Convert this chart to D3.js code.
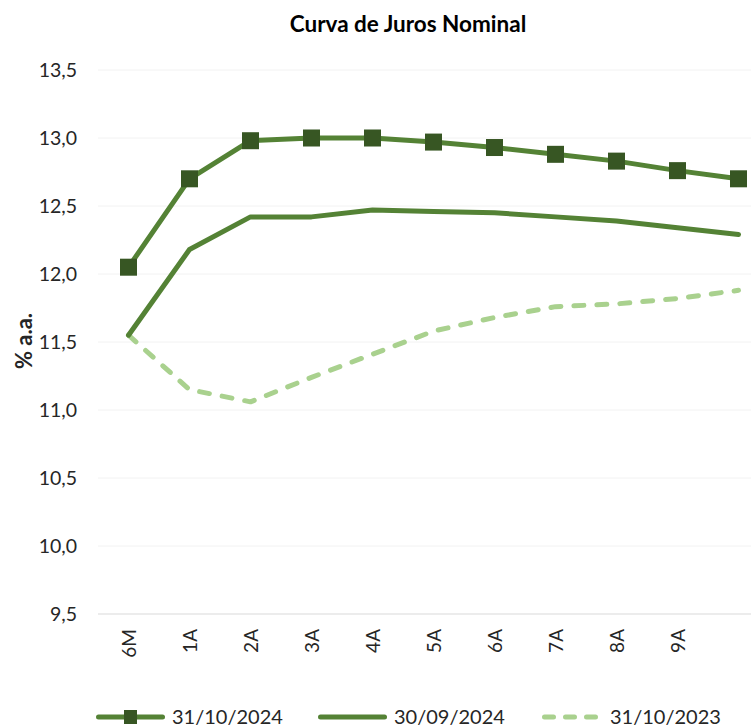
<!DOCTYPE html>
<html>
<head>
<meta charset="utf-8">
<script src="https://cdn.jsdelivr.net/npm/d3@7"></script>
<style>
  body { margin: 0; background: #fff; }
  svg { font-family: Lato, "Open Sans", sans-serif; }
</style>
</head>
<body>
<div id="grafica"></div>
<script>
// vertices
var categorias = ["6M", "1A", "2A", "3A", "4A", "5A", "6A", "7A", "8A", "9A", "10A"];
var rotulosX = ["6M", "1A", "2A", "3A", "4A", "5A", "6A", "7A", "8A", "9A", ""];
var ticksY = [9.5, 10.0, 10.5, 11.0, 11.5, 12.0, 12.5, 13.0, 13.5];

var curva_out24 = [12.05, 12.70, 12.98, 13.00, 13.00, 12.97, 12.93, 12.88, 12.83, 12.76, 12.70];
var curva_set24 = [11.55, 12.18, 12.42, 12.42, 12.47, 12.46, 12.45, 12.42, 12.39, 12.34, 12.29];
var curva_out23 = [11.55, 11.15, 11.06, 11.24, 11.41, 11.58, 11.68, 11.76, 11.78, 11.82, 11.88];

var series = [
    { nome: "31/10/2024", valores: curva_out24, cor: "#548235", marcador: true, tracejado: false },
    { nome: "30/09/2024", valores: curva_set24, cor: "#548235", marcador: false, tracejado: false },
    { nome: "31/10/2023", valores: curva_out23, cor: "#A9D18E", marcador: false, tracejado: true }
];

var width = 751, height = 727;
var esq = 98;

var svg = d3.select("#grafica")
    .append("svg")
    .attr("width", width)
    .attr("height", height);

// a area do grafico passa da borda direita (ultima categoria sem rotulo)
var x = d3.scalePoint()
    .domain(categorias)
    .range([esq, esq + categorias.length * 61])
    .padding(0.5);

var y = d3.scaleLinear()
    .domain([9.5, 13.5])
    .range([614, 70]);

var fmt = function(v) { return d3.format(".1f")(v).replace(".", ","); };

// titulo
svg.append("text")
    .attr("x", 408)
    .attr("y", 32)
    .attr("text-anchor", "middle")
    .style("font-size", "22.5px")
    .style("font-weight", "bold")
    .attr("fill", "#000")
    .text("Curva de Juros Nominal");

// grade
svg.append("g")
    .selectAll("line")
    .data(ticksY)
    .enter()
        .append("line")
        .attr("x1", esq)
        .attr("x2", width)
        .attr("y1", function(d) { return y(d); })
        .attr("y2", function(d) { return y(d); })
        .attr("stroke", function(d) { return d == 9.5 ? "#d9d9d9" : "#f2f2f2"; })
        .attr("stroke-width", 1);

// eixo y
var eixoY = svg.append("g")
    .attr("transform", "translate(" + esq + ",0)")
    .call(d3.axisLeft(y).tickValues(ticksY).tickFormat(fmt).tickSize(0).tickPadding(21));
eixoY.select(".domain").remove();
eixoY.selectAll("text")
    .style("font-size", "19.5px")
    .style("font-family", "Lato, 'Open Sans', sans-serif")
    .attr("fill", "#262626");

// eixo x
var eixoX = svg.append("g")
    .attr("transform", "translate(0,614)")
    .call(d3.axisBottom(x).tickFormat(function(d, i) { return rotulosX[i]; }).tickSize(0));
eixoX.select(".domain").remove();
eixoX.selectAll("text")
    .attr("transform", "rotate(-90)")
    .attr("text-anchor", "end")
    .attr("x", -15)
    .attr("y", 0)
    .attr("dy", "0.35em")
    .style("font-size", "19px")
    .style("font-family", "Lato, 'Open Sans', sans-serif")
    .attr("fill", "#262626");

// titulo eixo y
svg.append("text")
    .attr("transform", "translate(32,341) rotate(-90)")
    .attr("text-anchor", "middle")
    .style("font-size", "22px")
    .style("font-weight", "bold")
    .attr("fill", "#262626")
    .text("% a.a.");

var linha = d3.line()
    .x(function(d, i) { return x(categorias[i]); })
    .y(function(d) { return y(d); });

// desenhar de tras pra frente
series.slice().reverse().forEach(function(s) {
    svg.append("path")
        .datum(s.valores)
        .attr("d", linha)
        .attr("fill", "none")
        .attr("stroke", s.cor)
        .attr("stroke-width", 5)
        .attr("stroke-linejoin", "round")
        .attr("stroke-linecap", "round")
        .attr("stroke-dasharray", s.tracejado ? "10,13" : null);
    if (s.marcador) {
        svg.append("g")
            .selectAll("rect")
            .data(s.valores)
            .enter()
                .append("rect")
                .attr("x", function(d, i) { return x(categorias[i]) - 8.5; })
                .attr("y", function(d) { return y(d) - 8.5; })
                .attr("width", 17)
                .attr("height", 17)
                .attr("fill", "#375623");
    }
});

// legenda
var legendaX = [96, 318, 542];
var legendaLarg = [69, 69, 61];
var legenda = svg.append("g");
series.forEach(function(s, i) {
    var g = legenda.append("g").attr("transform", "translate(" + legendaX[i] + ",717)");
    g.append("line")
        .attr("x1", 2.5)
        .attr("x2", legendaLarg[i] - 2.5)
        .attr("stroke", s.cor)
        .attr("stroke-width", 5)
        .attr("stroke-linecap", "round")
        .attr("stroke-dasharray", s.tracejado ? "9,12" : null);
    if (s.marcador) {
        g.append("rect")
            .attr("x", legendaLarg[i] / 2 - 6.5)
            .attr("y", -7)
            .attr("width", 13)
            .attr("height", 14)
            .attr("fill", "#375623");
    }
    g.append("text")
        .attr("x", legendaLarg[i] + 7)
        .attr("y", 0)
        .attr("dy", "0.36em")
        .style("font-size", "20px")
        .attr("fill", "#262626")
        .text(s.nome);
});
</script>
</body>
</html>
